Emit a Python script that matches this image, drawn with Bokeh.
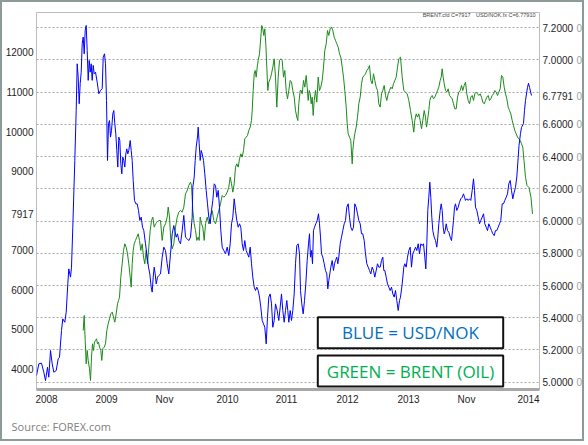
from bokeh.plotting import figure
from bokeh.models import (Range1d, LinearAxis, FixedTicker, NumeralTickFormatter, Label,
                          BoxAnnotation, Title, CustomJSTickFormatter)
from bokeh.embed import file_html
from bokeh.resources import INLINE

# ---- USD/NOK (blue, right axis) ----
usdnok_t = [
    0, 2.3, 5, 7.3, 9, 11, 12.3, 14, 15.7, 17.3,
    19.7, 21.7, 23, 25, 26.3, 28.3, 29.7, 31.3, 32.3, 34,
    35, 36.3, 38.3, 39.7, 40.7, 41.7, 42.7, 43.7, 44.7, 45.7,
    46.7, 47.7, 48.7, 49.7, 50.7, 51.7, 52.7, 53.7, 54.7, 55.7,
    56.7, 57.7, 59, 60.7, 62.3, 64, 65.7, 66.7, 68, 69,
    70, 71, 72, 73, 74, 75, 76.3, 77.3, 78.3, 79.3,
    80.3, 81.3, 82.3, 83.3, 84.3, 85.3, 86.3, 87.3, 88.3, 89.3,
    90.3, 91.3, 92.3, 93.7, 94.7, 95.7, 96.7, 98, 99.3, 100.7,
    102, 103.3, 104.7, 106, 107.3, 109, 110.7, 112, 113.3, 114.7,
    115.7, 116.7, 117.7, 118.7, 119.7, 121, 122.3, 124,
    125.7, 127.3, 129, 130.7, 132.3, 134, 135.7, 137.3, 138.3, 139.7,
    141, 142.3, 144, 145.7, 147.3, 149, 150.7, 152.3, 154, 155.7,
    156.3, 157.7, 158.7, 159.7, 161, 161.7, 162.7, 163.7, 164.7, 165.7,
    167, 168.3, 169.7, 171, 172.3, 173.7, 175, 176.3, 177.7, 179,
    180.3, 181.7, 183, 184.3, 185.7, 187.3, 189, 190.7, 192.3, 193.7,
    195, 196.3, 197.7, 199, 200.3, 201.7, 203, 204.3, 205.7, 207,
    208.3, 209.7, 211, 212.3, 213.7, 215, 216.3, 217.7, 219, 220.3,
    221.7, 223, 224.3, 225.7, 227, 228.3, 229.7, 231, 232.3, 233.7,
    235, 236.3, 237.7, 239,
    240.7, 242.3, 243.7, 245, 246.3, 247.7, 249, 250.3, 251.3, 252.3,
    253.7, 255, 256.3, 257.7, 259, 260.3, 261.7, 263, 264, 265.3,
    266.7, 268, 269.3, 270.7, 272, 273, 274, 275, 276, 277,
    278, 279.3, 280.7, 282, 283, 284, 285, 286.3, 287.7, 289,
    290.3, 291.3, 292.3, 293.3, 294.3, 295.7, 297, 298, 299, 300.3,
    301.3, 302.3, 303.7, 305, 306.3, 307.7, 309, 310.3, 311.7, 313,
    314.3, 315.7, 317, 318.3, 319.7, 321, 322.3, 323.7, 325, 326.3,
    327.7, 329, 330.3, 331.7, 333, 334.3, 335.7, 337, 338.3, 339.7,
    341, 342.3, 343.7, 345, 346.3, 347.3, 348.3, 349.7, 351, 352.3,
    353.7, 355, 356.3, 357.7, 359, 360.3, 361.7, 363, 364,
    365.7, 367.3, 368.3, 369.7, 371, 372.3, 373.7, 375, 376.3, 377.7,
    379, 380.3, 381.7, 383, 384.3, 385.7, 387, 388.3, 389.3, 390.3,
    391.3, 392.3, 393.3, 394.3, 395.3, 396.3, 397.7, 399, 400.3, 401.3,
    402.3, 403.7, 404.7, 405.7, 406.7, 407.7, 408.7, 409.7, 411, 412.3,
    413.7, 415, 416, 417, 418, 419, 420.3, 421.7, 423, 424.3,
    425.7, 427, 428, 429, 430.3, 431.7, 433, 434.3, 435.7, 437,
    438, 439, 440.3, 441.7, 443, 444.3, 445.7, 447, 448.3, 449.7,
    451, 452.3, 453.7, 455, 456.3, 457.7, 459, 460.3, 461.7, 463,
    464.3, 465.7, 467, 468.3, 469.7, 471, 472.3, 473.7, 475, 476.3,
    477.7, 479, 480.3, 481.7, 482.5, 484, 485, 487, 488, 489,
    491, 492, 493, 495,
]
usdnok = [
    5.041, 5.114, 5.118, 5.062, 5.010, 5.093, 5.031, 5.197, 5.114, 5.062,
    5.072, 5.145, 5.155, 5.321, 5.393, 5.372, 5.435, 5.610, 5.703, 5.652,
    5.714, 5.962, 6.376, 6.686, 6.976, 6.893, 6.728, 6.852, 6.924, 7.100,
    7.142, 7.038, 7.183, 7.214, 7.059, 6.873, 6.997, 6.924, 6.976, 6.873,
    6.966, 6.914, 6.924, 6.862, 6.790, 6.810, 6.821, 7.017, 7.038, 6.976,
    6.748, 6.376, 6.604, 6.624, 6.521, 6.562, 6.666, 6.686, 6.604, 6.541,
    6.438, 6.335, 6.521, 6.500, 6.355, 6.293, 6.397, 6.376, 6.335, 6.417,
    6.448, 6.417, 6.438, 6.500, 6.438, 6.376, 6.252, 6.128, 6.107, 6.107,
    6.066, 6.004, 6.024, 5.962, 5.941, 5.859, 5.776, 5.714, 5.672, 5.590,
    5.559, 5.652, 5.714, 5.672, 5.610, 5.652, 5.662, 5.672,
    5.776, 5.838, 5.817, 5.735, 5.672, 5.797, 5.921, 5.972, 5.941, 5.900,
    5.921, 5.879, 5.859, 5.941, 6.035, 5.900, 5.890, 5.879, 5.900, 6.024,
    6.210, 6.273, 6.376, 6.459, 6.521, 6.583, 6.479, 6.376, 6.438, 6.417,
    6.376, 6.293, 6.190, 6.107, 6.024, 5.983, 6.066, 6.128, 6.231, 6.221,
    6.148, 6.190, 6.086, 5.941, 5.838, 5.817, 5.797, 5.838, 5.786, 5.859,
    5.983, 6.024, 6.138, 6.066, 6.004, 5.962, 5.983, 5.962, 5.859, 5.817,
    5.879, 5.817, 5.797, 5.776, 5.838, 5.735, 5.652, 5.590, 5.569, 5.590,
    5.569, 5.528, 5.466, 5.383, 5.362, 5.341, 5.238, 5.403, 5.528, 5.548,
    5.486, 5.341, 5.383, 5.486,
    5.445, 5.383, 5.466, 5.548, 5.445, 5.372, 5.445, 5.507, 5.445, 5.372,
    5.445, 5.383, 5.445, 5.548, 5.735, 5.848, 5.859, 5.797, 5.569, 5.486,
    5.424, 5.507, 5.610, 5.755, 5.859, 5.921, 5.776, 5.817, 5.735, 5.941,
    5.962, 5.983, 6.004, 6.045, 5.983, 5.900, 5.797, 5.776, 5.735, 5.693,
    5.672, 5.579, 5.631, 5.672, 5.714, 5.755, 5.693, 5.735, 5.755, 5.776,
    5.735, 5.776, 5.859, 5.900, 5.941, 5.983, 6.004, 6.086, 6.107, 6.024,
    5.962, 5.941, 5.962, 6.107, 6.086, 6.045, 6.004, 5.983, 5.921, 5.921,
    5.879, 5.797, 5.735, 5.714, 5.693, 5.672, 5.714, 5.693, 5.652, 5.693,
    5.735, 5.714, 5.714, 5.755, 5.776, 5.693, 5.693, 5.652, 5.610, 5.590,
    5.569, 5.590, 5.548, 5.528, 5.569, 5.507, 5.445, 5.507, 5.528,
    5.610, 5.714, 5.735, 5.714, 5.776, 5.817, 5.838, 5.714, 5.797, 5.817,
    5.838, 5.817, 5.859, 5.797, 5.859, 5.848, 5.859, 5.776, 5.703, 5.859,
    6.066, 6.148, 6.241, 6.148, 6.024, 5.941, 5.900, 5.879, 5.838, 5.900,
    5.983, 6.066, 6.107, 6.066, 5.962, 5.921, 5.941, 5.983, 5.941, 5.931,
    5.900, 5.879, 5.941, 6.004, 6.086, 6.107, 6.066, 6.086, 6.117, 6.138,
    6.148, 6.169, 6.148, 6.128, 6.138, 6.128, 6.138, 6.128, 6.190, 6.262,
    6.190, 6.086, 6.066, 6.024, 5.983, 6.004, 6.024, 6.045, 5.983, 5.962,
    5.941, 5.983, 5.962, 5.941, 5.921, 5.910, 5.941, 5.941, 5.962, 5.983,
    6.004, 6.107, 6.107, 6.128, 6.148, 6.169, 6.231, 6.252, 6.190, 6.138,
    6.179, 6.210, 6.273, 6.395, 6.469, 6.544, 6.581, 6.606, 6.687, 6.749,
    6.830, 6.855, 6.830, 6.7791,
]

# ---- BRENT (green, left axis, in cents) ----
brent_t = [
    46.7, 47.7, 48.7, 49.7, 50.7, 51.7, 53, 54, 55, 56,
    57, 58, 59, 60, 61, 62, 63, 64.3, 65.3, 66.3,
    67.7, 69, 70.3, 71.7, 73, 74.3, 75.7, 77, 78.3, 79.7,
    81, 82, 83, 84.3, 85.7, 87, 88.3, 89.7, 91, 92.3,
    93.7, 94.7, 95.7, 96.7, 97.7, 99, 100.3, 101.7, 103, 104.3,
    105.7, 107, 108.3, 109.7, 111, 112.3, 113.7, 115, 116.3, 117.7,
    119, 120.7, 122.3, 124,
    125.7, 127.3, 129, 130.7, 131.7, 133, 134.3, 135.7, 137.3, 139,
    140.7, 142.3, 144, 145.7, 147.3, 149, 150.7, 152.3, 154, 155,
    156.3, 157.7, 159, 160.3, 161.7, 162.7, 163.7, 165, 166.3, 167.7,
    169, 170.7, 172.3, 174, 175.7, 177.3, 179, 180.7, 182.3, 184,
    185.7, 187.3, 189, 190.7, 192.3, 193.7, 195, 196.3, 197.7, 199,
    200.3, 201.7, 203, 204.3, 205.7, 207, 208.3, 209.7, 211, 212.3,
    213.7, 215, 215.7, 216.7, 217.7, 218.7, 219.7, 220.7, 221.7, 223,
    224.3, 225.3, 226.3, 227.3, 228.3, 229.3, 230.3, 231.3, 232.3, 233.7,
    235, 236.3, 237.7, 239,
    240.3, 241.7, 243, 244.3, 245.7, 247, 248.3, 249.7, 251, 252.3,
    253.7, 255, 256.3, 257.7, 259, 260.3, 261.3, 262.3, 263.7, 264.7,
    265.7, 267, 268.3, 269.7, 270.7, 271.7, 272.7, 273.7, 274.7, 275.7,
    276.7, 277.7, 279, 280.3, 281.7, 283, 284.3, 285.7, 287, 288.3,
    289.7, 291, 292.3, 293.7, 295, 296.3, 297.7, 299, 300.3, 301.7,
    303, 304.3, 305.7, 307, 308.3, 309.7, 310.7, 311.7, 313, 314.3,
    315.7, 316.3, 317.3, 318.3, 319.7, 321, 322.3, 323.7, 325, 326.3,
    327.7, 329, 330.3, 331.7, 333, 334.3, 335.7, 337, 338.3, 339.7,
    341, 342.3, 343.7, 345, 346.3, 347.7, 349, 350.3, 351.7, 353,
    354.3, 355.7, 357, 358.3, 359.7, 361, 362.3, 364,
    365.7, 367.3, 369, 370.7, 372.3, 374, 375.7, 377.3, 378.3, 379.7,
    381, 382.3, 383.7, 385, 386.3, 387.7, 389, 390, 391, 392.3,
    393.3, 394.3, 395.7, 397, 398.3, 399.7, 401, 402.3, 403.7, 404.7,
    405.7, 406.7, 407.7, 409, 410.3, 411.7, 413, 414.3, 415.7, 417,
    418.3, 419.7, 421, 422.3, 423.7, 425, 426.3, 427.7, 429, 430.3,
    431.7, 433, 434.3, 435.7, 437, 438.3, 439.7, 441, 442.3, 443.7,
    445, 446.3, 447.7, 449, 450.3, 451.7, 453, 454.3, 455.7, 457,
    458.3, 459.7, 461, 462.3, 463.7, 465, 466.3, 467.7, 469, 470.3,
    471.7, 473, 474.3, 475.7, 477, 478.3, 479.7, 481, 482.3, 483.7,
    485, 486.3, 487.5, 489, 490.5, 492.5, 494.5, 496,
]
brent = [
    4969, 5349, 4717, 4126, 4464, 4211, 4000, 3705, 4295, 4632,
    4464, 4674, 4717, 4759, 4632, 4674, 4548, 4464, 4211, 4506,
    4548, 4632, 4969, 5138, 5265, 5391, 5433, 5307, 5180, 5391,
    5644, 5728, 5812, 6318, 6655, 6993, 7161, 7077, 6908, 6655,
    6318, 6065, 6655, 6993, 7161, 7246, 7330, 7414, 7246, 6993,
    7161, 6824, 6655, 6993, 6655, 7077, 7498, 7751, 7836, 7583,
    7667, 7709, 7751, 7751,
    7246, 7583, 7667, 7836, 8089, 7836, 7246, 7035, 7161, 7583,
    7836, 7962, 8004, 7962, 8089, 8426, 8510, 8637, 8721, 8637,
    8004, 7667, 7498, 7246, 7330, 7246, 7836, 7667, 7583, 7246,
    7667, 7836, 7667, 7878, 8004, 7751, 7667, 7836, 8004, 8173,
    8384, 8341, 8384, 8468, 8594, 8847, 8679, 8468, 8679, 9100,
    9184, 9100, 9311, 9437, 9353, 9522, 9817, 9859, 9901, 10027,
    10112, 10280, 10533, 11039, 11461, 11545, 11376, 11629, 11798, 11966,
    12388, 12683, 12599, 12430, 12599, 12219, 11629, 11039, 11250, 11334,
    11461, 11629, 11840, 11376,
    10618, 11376, 11798, 11840, 11798, 11376, 11545, 11039, 10828, 11039,
    11292, 11250, 11039, 10870, 10533, 10365, 10280, 10702, 11039, 11039,
    10955, 11292, 11123, 11418, 11123, 10786, 11039, 10955, 10702, 10870,
    10407, 10786, 11039, 10744, 11376, 11039, 11123, 11292, 11629, 12051,
    12219, 12556, 12430, 12599, 12641, 12556, 12388, 12304, 12219, 12135,
    11966, 11882, 11629, 11376, 11039, 10618, 10196, 9943, 9859, 9775,
    9184, 9522, 9775, 9943, 10112, 10365, 10702, 10870, 11208, 11376,
    11418, 11461, 11545, 11587, 11671, 11292, 11208, 11461, 11292, 11123,
    11039, 10702, 10618, 10955, 11039, 11166, 10913, 10786, 10955, 11039,
    11123, 11081, 11208, 11292, 11376, 11629, 11840, 11882,
    11376, 11039, 10997, 10955, 10786, 10533, 10280, 9985, 10280, 10449,
    10365, 10449, 10280, 10070, 10280, 10533, 10365, 10112, 10280, 10533,
    10786, 10870, 10913, 10828, 10870, 10955, 11039, 11123, 11292, 11376,
    11587, 11376, 11208, 11039, 10997, 11081, 10913, 10870, 10828, 10702,
    10575, 10575, 10870, 10997, 11039, 11166, 11039, 11166, 11250, 10955,
    10786, 10702, 10870, 10913, 10786, 10955, 10997, 10955, 10913, 10955,
    10870, 10744, 10702, 10786, 10870, 10913, 10786, 10828, 10913, 10955,
    11039, 10997, 10913, 10997, 11081, 11418, 11376, 11123, 10955, 10828,
    10618, 10533, 10449, 10280, 10154, 10027, 9943, 9859, 9817, 9775,
    9690, 9600, 9268, 8838, 8636, 8585, 8332, 7917,
]

assert len(usdnok_t) == len(usdnok), (len(usdnok_t), len(usdnok))
assert len(brent_t) == len(brent), (len(brent_t), len(brent))

x_tick_pos = [10, 70, 128, 191, 250, 311, 372, 430, 492]
x_tick_labels = ["2008", "2009", "Nov", "2010", "2011", "2012", "2013", "Nov", "2014"]
usdnok_grid = [5.0, 5.2, 5.4, 5.6, 5.8, 6.0, 6.2, 6.4, 6.6, 6.8, 7.0, 7.2]
usdnok_last = 6.7791
usdnok_label_ticks = [5.0, 5.2, 5.4, 5.6, 5.8, 6.0, 6.2, 6.4, 6.6, usdnok_last, 7.0, 7.2]
brent_last = 7917
brent_label_ticks = [4000, 5000, 6000, 7000, brent_last, 9000, 10000, 11000, 12000]
header_brent = "BRENT.cfd C=7917"
header_usdnok = "USD/NOK.fx C=6.77910"
legend_blue = "BLUE = USD/NOK"
legend_green = "GREEN = BRENT (OIL)"
source_text = "Source: FOREX.com"

FONT = "Liberation Sans"

p = figure(width=584, height=441, output_backend="svg", toolbar_location=None,
           x_range=Range1d(0, 503), y_range=Range1d(4.9547, 7.2943),
           y_axis_location="right",
           min_border_left=34, min_border_right=47, min_border_top=10, min_border_bottom=54,
           background_fill_color="white", border_fill_color="white")
p.styles = {"border": "2px solid #8c9a9a"}
p.extra_y_ranges = {"brent": Range1d(3476.5, 13011)}
p.outline_line_color = "#bdbdbd"

right_axis = p.yaxis[0]
right_axis.ticker = FixedTicker(ticks=usdnok_label_ticks)
right_axis.formatter = NumeralTickFormatter(format="0.0000")
right_zero_axis = LinearAxis(ticker=FixedTicker(ticks=usdnok_label_ticks),
                             formatter=CustomJSTickFormatter(code="return '0'"))
p.add_layout(right_zero_axis, "right")
left_axis = LinearAxis(y_range_name="brent", ticker=FixedTicker(ticks=brent_label_ticks))
p.add_layout(left_axis, "left")
xa = p.xaxis[0]

for ax in (right_axis, right_zero_axis, left_axis, xa):
    ax.major_tick_in = 0
    ax.major_tick_out = 0
    ax.minor_tick_in = 0
    ax.minor_tick_out = 0
    ax.major_label_text_font = FONT
    ax.major_label_text_font_size = "10px"
    ax.major_label_text_color = "#1e1e1e"
right_axis.axis_line_color = None
right_zero_axis.axis_line_color = None
right_zero_axis.major_label_text_color = "#a0a0a0"
left_axis.axis_line_color = None
right_axis.major_label_standoff = 3
right_zero_axis.major_label_standoff = 0
left_axis.major_label_standoff = 3

xa.ticker = FixedTicker(ticks=x_tick_pos)
xa.major_label_overrides = dict(zip(x_tick_pos, x_tick_labels))
xa.axis_line_color = "#a8a8a8"
xa.axis_line_width = 3
xa.major_label_standoff = 4

p.xgrid.visible = False
p.ygrid.visible = False

# dotted horizontal grid at the right-axis levels, drawn as a glyph before the lines
p.hspan(y=usdnok_grid, line_color="#a8a8a8", line_dash="2 2", line_width=1)

p.line(brent_t, brent, y_range_name="brent", line_color="#1a8a1a", line_width=1)
p.line(usdnok_t, usdnok, line_color="#0000ff", line_width=1)

# legend boxes
p.add_layout(BoxAnnotation(left=281.3, right=466.7, bottom=5.211, top=5.4034,
                           fill_color="white", fill_alpha=1, line_color="#111111",
                           line_alpha=1, line_width=2))
p.add_layout(BoxAnnotation(left=281.3, right=466.7, bottom=4.9733, top=5.1657,
                           fill_color="white", fill_alpha=1, line_color="#111111",
                           line_alpha=1, line_width=2))
p.add_layout(Label(x=374, y=5.3066, text=legend_blue, text_align="center", text_baseline="middle",
                   text_font="Open Sans", text_font_size="17px", text_color="#0070c0"))
p.add_layout(Label(x=374, y=5.0683, text=legend_green, text_align="center", text_baseline="middle",
                   text_font="Open Sans", text_font_size="17px", text_color="#00b050"))

# header
p.add_layout(Label(x=499, y=7.2757, text=header_usdnok, text_align="right", text_baseline="middle",
                   text_font=FONT, text_font_size="5.5px", text_color="#444444"))
p.add_layout(Label(x=434, y=7.2757, text=header_brent, text_align="right", text_baseline="middle",
                   text_font=FONT, text_font_size="5.5px", text_color="#444444"))

# source
p.add_layout(Title(text=source_text, align="left", offset=-25, standoff=18,
                   text_font="Open Sans", text_font_size="11px", text_font_style="normal",
                   text_color="#808080"), "below")

open("out.html", "w").write(file_html(p, INLINE))
